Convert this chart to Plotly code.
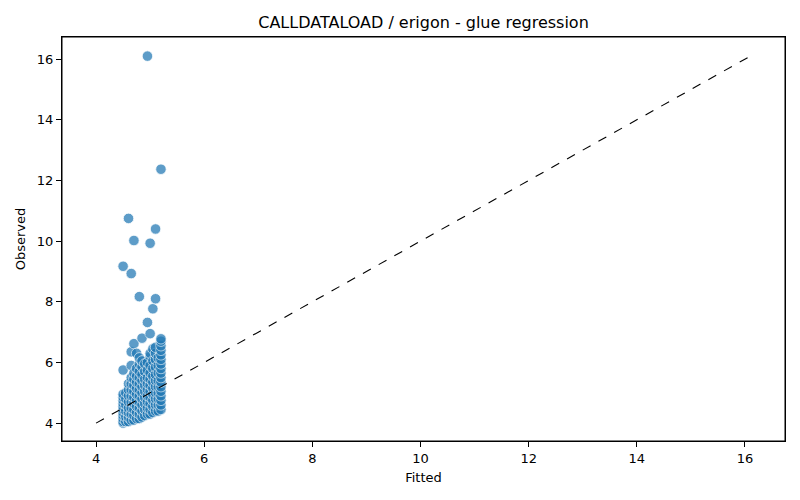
import plotly.graph_objects as go

# fitted value levels and the observed values seen at each level
fitted_levels = [4.50, 4.55, 4.60, 4.65, 4.70, 4.75, 4.80, 4.85,
                 4.90, 4.95, 5.00, 5.05, 5.10, 5.15, 5.20]
observed_by_level = [
    [4.00, 4.05, 4.15, 4.25, 4.35, 4.45, 4.55, 4.65, 4.75, 4.85, 4.95, 5.75, 9.17],
    [4.05, 4.20, 4.40, 4.60, 4.80, 5.00],
    [4.05, 4.20, 4.35, 4.50, 4.70, 4.90, 5.10, 5.30, 10.75],
    [4.10, 4.30, 4.50, 4.70, 4.90, 5.10, 5.30, 5.50, 5.90, 6.35, 8.93],
    [4.10, 4.25, 4.45, 4.65, 4.85, 5.05, 5.25, 5.45, 5.65, 6.62, 10.02],
    [4.15, 4.35, 4.55, 4.75, 4.95, 5.15, 5.35, 5.55, 5.80, 6.30],
    [4.15, 4.30, 4.50, 4.70, 4.90, 5.10, 5.30, 5.50, 5.70, 5.95, 6.15, 8.17],
    [4.20, 4.40, 4.60, 4.80, 5.00, 5.20, 5.40, 5.60, 5.85, 6.05, 6.80],
    [4.25, 4.45, 4.65, 4.85, 5.05, 5.25, 5.45, 5.70, 5.95],
    [4.30, 4.50, 4.70, 4.90, 5.10, 5.30, 5.50, 5.75, 6.00, 7.32, 16.10],
    [4.30, 4.45, 4.65, 4.85, 5.05, 5.25, 5.45, 5.65, 5.90, 6.20, 6.30, 6.95, 9.93],
    [4.35, 4.55, 4.75, 4.95, 5.15, 5.35, 5.55, 5.80, 6.05, 6.45, 7.77],
    [4.40, 4.60, 4.80, 5.00, 5.20, 5.40, 5.60, 5.85, 6.10, 6.30, 6.50, 8.10, 10.40],
    [4.40, 4.60, 4.80, 5.00, 5.20, 5.40, 5.65, 5.90, 6.15],
    [4.45, 4.60, 4.75, 4.90, 5.05, 5.20, 5.35, 5.50, 5.65, 5.80, 5.95, 6.10,
     6.25, 6.40, 6.55, 6.70, 6.78, 12.37],
]

fitted = []
observed = []
for f, obs in zip(fitted_levels, observed_by_level):
    fitted += [f] * len(obs)
    observed += obs

lo = min(min(fitted), min(observed))
hi = max(max(fitted), max(observed))

fig = go.Figure()
fig.add_trace(go.Scatter(
    x=fitted, y=observed, mode="markers",
    marker=dict(color="#1f77b4", size=10.5, opacity=0.72,
                line=dict(color="white", width=0.8)),
    showlegend=False,
))
fig.add_trace(go.Scatter(
    x=[lo, hi], y=[lo, hi], mode="lines",
    line=dict(color="black", width=1.1, dash="dash"),
    showlegend=False,
))

axis_style = dict(showline=True, mirror=True, linecolor="black", linewidth=1,
                  ticks="outside", ticklen=5, tickcolor="black", showgrid=False,
                  zeroline=False, tickfont=dict(size=13, color="black"))

# the page body has an 8px margin, so the figure is placed a bit up/left
fig.update_layout(
    width=800, height=500,
    margin=dict(l=54, r=23, t=29, b=67),
    paper_bgcolor="white", plot_bgcolor="white",
    font=dict(family="DejaVu Sans", color="black"),
    title=dict(text="CALLDATALOAD / erigon - glue regression", x=(54 + 777) / 2 / 800,
               xanchor="center", y=1 - 14 / 500, yanchor="middle", font=dict(size=16)),
    shapes=[dict(type="rect", xref="paper", yref="paper", x0=0, y0=0, x1=1, y1=1,
                 line=dict(color="black", width=1), layer="above")],
)
fig.update_xaxes(axis_style, range=[3.37, 16.74], tickvals=[4, 6, 8, 10, 12, 14, 16],
                 title=dict(text="Fitted", font=dict(size=13), standoff=8))
fig.update_yaxes(axis_style, range=[3.41, 16.73], tickvals=[4, 6, 8, 10, 12, 14, 16],
                 title=dict(text="Observed", font=dict(size=13), standoff=8))

fig.write_html("out.html")
